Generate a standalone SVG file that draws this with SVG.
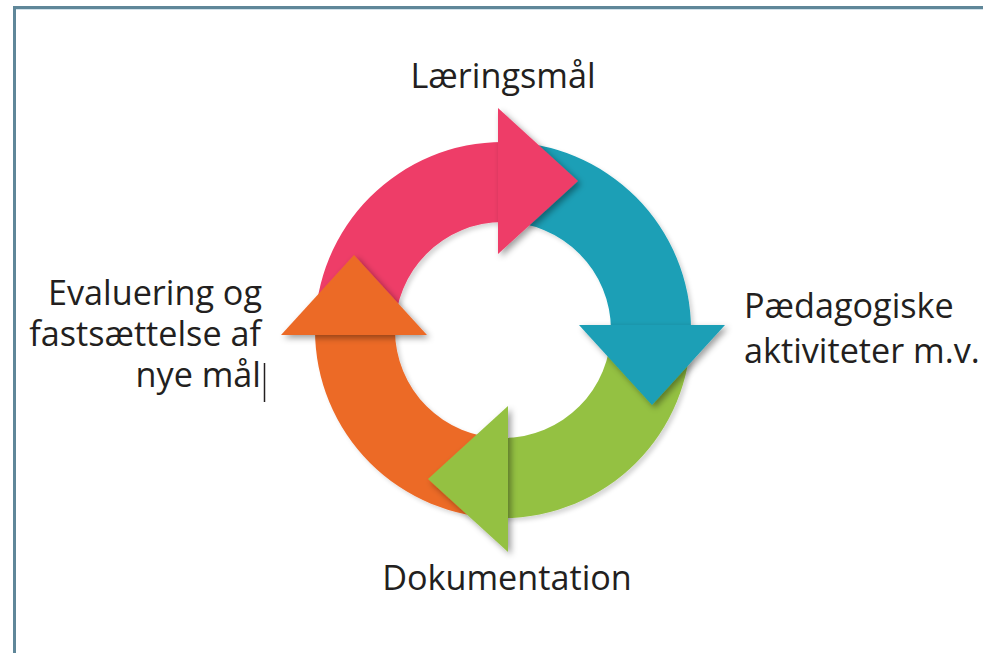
<svg xmlns="http://www.w3.org/2000/svg" width="983" height="653" viewBox="0 0 983 653">
  <defs>
    <style>
      .lbl { font-family: "Open Sans", "Noto Sans", "DejaVu Sans", sans-serif; font-size: 34.2px; fill: #231f20; }
      .pink { fill: #ee3d67; }
      .teal { fill: #1a9fb6; }
      .green { fill: #94c143; }
      .orange { fill: #ec6a28; }
    </style>
    <filter id="ringShadow" x="-10%" y="-10%" width="120%" height="120%">
      <feDropShadow dx="3" dy="3" stdDeviation="2" flood-color="#000" flood-opacity="0.16"/>
    </filter>
    <filter id="headShadow" x="-20%" y="-20%" width="140%" height="140%">
      <feDropShadow dx="3" dy="3" stdDeviation="3" flood-color="#000" flood-opacity="0.38"/>
    </filter>
  </defs>

  <rect x="0" y="0" width="983" height="653" fill="#ffffff"/>

  <!-- frame -->
  <g id="frame" fill="none">
    <path d="M14.5,653 V7.5 H983" stroke="#5f8799" stroke-width="3"/>
    <path d="M16,9.5 H983" stroke="#d3e2ea" stroke-width="1"/>
  </g>

  <!-- connectors: the four curved arrows of the cycle -->
  <g id="connectors">
    <g id="arrow-bodies" filter="url(#ringShadow)">
      <path id="body-pink" class="pink" d="M315,330 A188,188 0 0 1 503,142 L503,222 A108,108 0 0 0 395,330 Z"/>
      <path id="body-teal" class="teal" d="M503,142 A188,188 0 0 1 691,330 L611,330 A108,108 0 0 0 503,222 Z"/>
      <path id="body-green" class="green" d="M691,330 A188,188 0 0 1 503,518 L503,438 A108,108 0 0 0 611,330 Z"/>
      <path id="body-orange" class="orange" d="M503,518 A188,188 0 0 1 315,330 L395,330 A108,108 0 0 0 503,438 Z"/>
    </g>
    <g id="arrow-heads" filter="url(#headShadow)">
      <path id="head-pink" class="pink" d="M498,108 L578,181 L498,254 Z"/>
      <path id="head-teal" class="teal" d="M579,325 L725,325 L652,405 Z"/>
      <path id="head-green" class="green" d="M508,406 L508,552 L428,479 Z"/>
      <path id="head-orange" class="orange" d="M281,335 L427,335 L354,255 Z"/>
    </g>
  </g>

  <g id="node-laeringsmaal">
    <text class="lbl" x="503" y="88" text-anchor="middle">Læringsmål</text>
  </g>

  <g id="node-paedagogiske">
    <text class="lbl" x="744" y="318">Pædagogiske<tspan x="744" dy="45">aktiviteter m.v.</tspan></text>
  </g>

  <g id="node-dokumentation">
    <text class="lbl" x="507" y="590" text-anchor="middle">Dokumentation</text>
  </g>

  <g id="node-evaluering">
    <text class="lbl" x="262" y="305" text-anchor="end">Evaluering og<tspan x="261" dy="41">fastsættelse af</tspan><tspan x="261" dy="41">nye mål</tspan></text>
    <line x1="264.5" y1="363" x2="264.5" y2="402" stroke="#231f20" stroke-width="1.5"/>
  </g>
</svg>
